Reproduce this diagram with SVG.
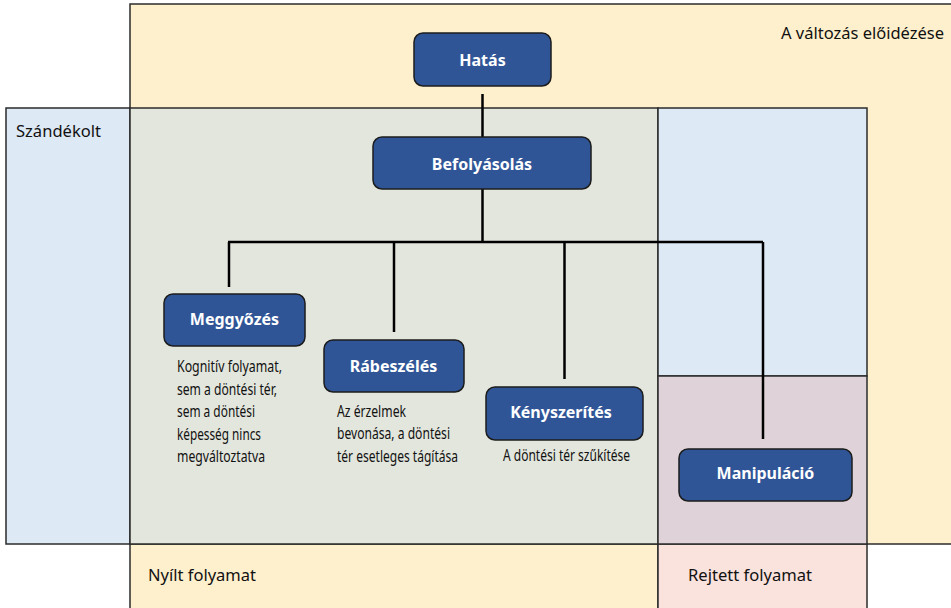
<svg xmlns="http://www.w3.org/2000/svg" width="951" height="608" viewBox="0 0 951 608">
<style>
.reg{stroke:#2b2b2b;stroke-width:1.5}
.node rect{fill:#2f5597;stroke:#1c1c1c;stroke-width:1.5}
.node text{fill:#ffffff;font-family:"Noto Sans","Open Sans",sans-serif;font-weight:bold;font-size:16px;text-anchor:middle}
.lbl{fill:#111;font-family:"Noto Sans","Open Sans",sans-serif;font-size:16.5px}
.desc{fill:#111;font-family:"Noto Sans","Open Sans",sans-serif;font-size:17px}
.conn path{fill:none;stroke:#000;stroke-width:2.5}
</style>
<rect width="951" height="608" fill="#ffffff"/>
<g id="regions">
<rect class="reg" x="130" y="4" width="830" height="540" fill="#fff0cd"/>
<rect class="reg" x="130" y="544" width="528" height="70" fill="#fff0cd"/>
<rect class="reg" x="658" y="544" width="209" height="70" fill="#fae2dd"/>
<rect class="reg" x="6" y="108" width="124" height="436" fill="#dde9f5"/>
<rect class="reg" x="130" y="108" width="528" height="436" fill="#e3e6dd"/>
<rect class="reg" x="658" y="108" width="209" height="268" fill="#dde9f5"/>
<rect class="reg" x="658" y="376" width="209" height="168" fill="#dfd3d9"/>
</g>
<g id="region-labels">
<text class="lbl" x="781" y="39" textLength="163" lengthAdjust="spacingAndGlyphs">A változás előidézése</text>
<text class="lbl" x="16" y="137" textLength="85" lengthAdjust="spacingAndGlyphs">Szándékolt</text>
<text class="lbl" x="148" y="581" textLength="108" lengthAdjust="spacingAndGlyphs">Nyílt folyamat</text>
<text class="lbl" x="688" y="581" textLength="124" lengthAdjust="spacingAndGlyphs">Rejtett folyamat</text>
</g>
<g id="connectors" class="conn">
<path d="M482.5 94 V137"/>
<path d="M482.5 189 V242"/>
<path d="M228 242 H763"/>
<path d="M229 242 V287"/>
<path d="M394 242 V332"/>
<path d="M564.5 242 V379"/>
<path d="M763 242 V439"/>
</g>
<g id="hatas" class="node"><rect x="414" y="33" width="137" height="53" rx="9"/><text x="482.5" y="66">Hatás</text></g>
<g id="befolyasolas" class="node"><rect x="373" y="137" width="218" height="52" rx="9"/><text x="482" y="170">Befolyásolás</text></g>
<g id="meggyozes" class="node"><rect x="164" y="294" width="141" height="52" rx="9"/><text x="234.5" y="325">Meggyőzés</text></g>
<g id="rabeszeles" class="node"><rect x="324" y="340" width="140" height="52" rx="9"/><text x="393.5" y="372">Rábeszélés</text></g>
<g id="kenyszerites" class="node"><rect x="486" y="387" width="157" height="53" rx="9"/><text x="561" y="418">Kényszerítés</text></g>
<g id="manipulacio" class="node"><rect x="679" y="449" width="173" height="52" rx="9"/><text x="765.5" y="479">Manipuláció</text></g>
<g id="desc-meggyozes">
<text class="desc" x="177" y="372" textLength="105" lengthAdjust="spacingAndGlyphs">Kognitív folyamat,</text>
<text class="desc" x="177" y="395" textLength="100" lengthAdjust="spacingAndGlyphs">sem a döntési tér,</text>
<text class="desc" x="177" y="417" textLength="78" lengthAdjust="spacingAndGlyphs">sem a döntési</text>
<text class="desc" x="177" y="440" textLength="84" lengthAdjust="spacingAndGlyphs">képesség nincs</text>
<text class="desc" x="177" y="462" textLength="88" lengthAdjust="spacingAndGlyphs">megváltoztatva</text>
</g>
<g id="desc-rabeszeles">
<text class="desc" x="337" y="417" textLength="69" lengthAdjust="spacingAndGlyphs">Az érzelmek</text>
<text class="desc" x="337" y="439" textLength="113" lengthAdjust="spacingAndGlyphs">bevonása, a döntési</text>
<text class="desc" x="337" y="462" textLength="121" lengthAdjust="spacingAndGlyphs">tér esetleges tágítása</text>
</g>
<g id="desc-kenyszerites">
<text class="desc" x="503" y="461" textLength="127" lengthAdjust="spacingAndGlyphs">A döntési tér szűkítése</text>
</g>
</svg>
